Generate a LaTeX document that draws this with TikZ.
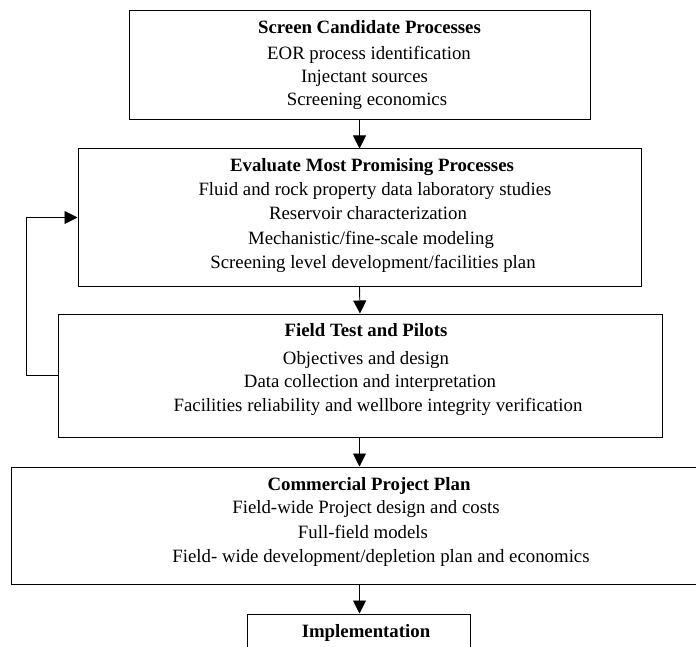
\documentclass[tikz,border=0pt]{standalone}
\usepackage{fontspec}
\setmainfont{Liberation Serif}
\usetikzlibrary{arrows.meta}
\newcommand{\fsz}{\fontsize{18.8}{24}\selectfont}
\tikzset{
  box/.style={draw=black, line width=1pt, inner sep=0pt, minimum width=#1},
  ln/.style={anchor=base, inner sep=0pt, font=\fsz},
  ttl/.style={anchor=base, inner sep=0pt, font=\fsz\bfseries},
  arr/.style={draw=black, line width=0.9pt, -{Triangle[length=13pt,width=13pt]}}
}
\begin{document}
\begin{tikzpicture}[x=1pt,y=-1pt]
\useasboundingbox (0,0) rectangle (696,647);
% boxes
\node[box=461pt, minimum height=109pt] (b1) at (359.5,65.5) {};
\node[box=563pt, minimum height=137pt] (b2) at (359.5,217.5) {};
\node[box=604pt, minimum height=123pt] (b3) at (360,375.5) {};
\node[box=690pt, minimum height=117pt] (b4) at (356,525.5) {};
\node[box=223pt, minimum height=60pt] (b5) at (358.5,644) {};
% texts box 1
\node[ttl] (t1) at (369.5,34) {Screen Candidate Processes};
\node[ln] (t1a) at (369,60) {EOR process identification};
\node[ln] (t1b) at (364.5,83) {Injectant sources};
\node[ln] (t1c) at (367,106) {Screening economics};
% box 2
\node[ttl] (t2) at (372,172) {Evaluate Most Promising Processes};
\node[ln] (t2a) at (375,196) {Fluid and rock property data laboratory studies};
\node[ln] (t2b) at (368,220) {Reservoir characterization};
\node[ln] (t2c) at (371,244) {Mechanistic/fine-scale modeling};
\node[ln] (t2d) at (373,268) {Screening level development/facilities plan};
% box 3
\node[ttl] (t3) at (366,336) {Field Test and Pilots};
\node[ln] (t3a) at (366,364) {Objectives and design};
\node[ln] (t3b) at (370,387) {Data collection and interpretation};
\node[ln] (t3c) at (378,411) {Facilities reliability and wellbore integrity verification};
% box 4
\node[ttl] (t4) at (369,490) {Commercial Project Plan};
\node[ln] (t4a) at (366,513) {Field-wide Project design and costs};
\node[ln] (t4b) at (363,538) {Full-field models};
\node[ln] (t4c) at (381,562) {Field- wide development/depletion plan and economics};
% box 5
\node[ttl] (t5) at (366,637) {Implementation};
% connectors
\coordinate (ax) at (359.5,0);
\coordinate (fb) at (26,0);
\draw[arr] (b1.south) -- (b2.north);
\draw[arr] (b2.south) -- (b3.north);
\draw[arr] (b3.south -| ax) -- (b4.north -| ax);
\draw[arr] (b4.south -| ax) -- (b5.north -| ax);
\draw[arr] (b3.west) -- (b3.west -| fb) |- (b2.west);
\end{tikzpicture}
\end{document}
